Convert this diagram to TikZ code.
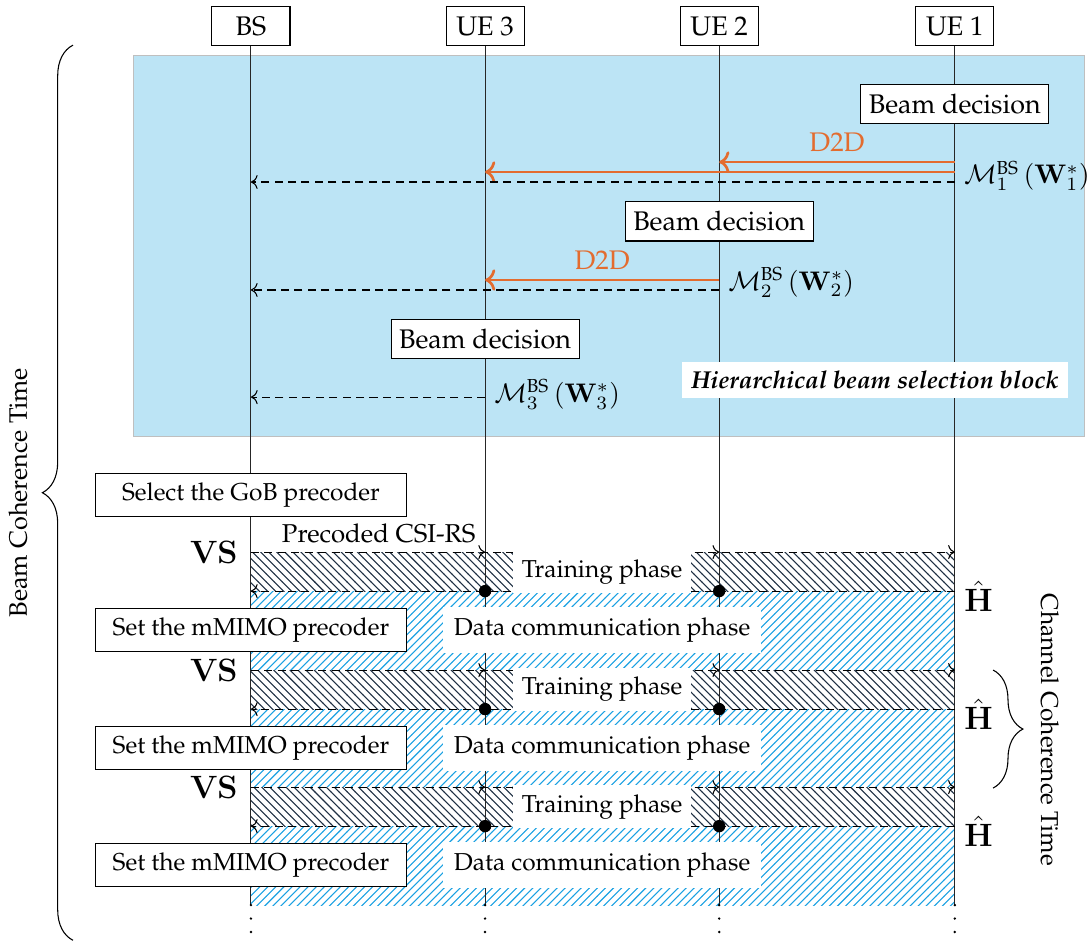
\documentclass[tikz,border=0pt]{standalone}
\usepackage[T1]{fontenc}
\usepackage{amsmath}
\renewcommand{\rmdefault}{ppl}
\usetikzlibrary{patterns,decorations.pathreplacing,arrows.meta}
\definecolor{blockblue}{HTML}{BCE4F5}
\definecolor{d2dorange}{HTML}{E36C2F}
\definecolor{hatchblue}{HTML}{1BA1E2}
\definecolor{hatchdark}{HTML}{1F3044}
\newcommand{\labelsize}{\fontsize{9.1}{11}\selectfont}

\tikzset{
  actor/.style={draw,fill=white,minimum width=1.02cm,minimum height=0.52cm},
  decision/.style={draw,fill=white,minimum height=0.52cm,inner sep=3pt},
  precoder/.style={draw,fill=white,minimum width=4.07cm,minimum height=0.5cm,font=\labelsize},
  phase/.style={fill=white,minimum height=0.5cm,font=\labelsize},
  report/.style={dash pattern=on 3pt off 2pt,->},
  d2d/.style={d2dorange,line width=1pt,->},
  dotsline/.style={line width=1pt,dash pattern=on 0pt off 5pt,line cap=round},
}

\begin{document}
\begin{tikzpicture}
\useasboundingbox (0,0) rectangle (14.26,-12.35);

% beam selection block
\filldraw[fill=blockblue,draw=black!25] (1.74,-0.72) rectangle (14.18,-5.70);

% hatching: data phase below, training strips on top
\fill[pattern=north east lines,pattern color=hatchblue] (3.28,-7.726) rectangle (12.48,-11.83);
\foreach \t in {-7.216,-8.758,-10.288}{
  \fill[white] (3.28,\t) rectangle (12.48,\t-0.51);
  \fill[pattern=north west lines,pattern color=hatchdark] (3.28,\t) rectangle (12.48,\t-0.51);
}

% actors and lifelines
\node[actor] (bs)  at (3.28,-0.34)  {BS};
\node[actor] (ue3) at (6.34,-0.34)  {UE 3};
\node[actor] (ue2) at (9.40,-0.34)  {UE 2};
\node[actor] (ue1) at (12.48,-0.34) {UE 1};
\coordinate (end) at (0,-11.83);
\coordinate (dots) at (0,-12.2);
\foreach \u in {bs,ue3,ue2,ue1}{
  \draw[black!85] (\u) -- (\u |- end);
  \draw[dotsline] (\u |- end) -- (\u |- dots);
}

% UE 1
\node[decision] (bd1) at (12.48,-1.36) {Beam decision};
\coordinate (m1a) at (0,-2.118);
\coordinate (m1b) at (0,-2.248);
\coordinate (m1c) at (0,-2.379);
\coordinate (m1x) at (0,-2.30);
\draw[d2d] (ue1 |- m1a) -- node[above,text=d2dorange] (d2d1) {D2D} (ue2 |- m1a);
\draw[d2d] (ue1 |- m1b) -- (ue3 |- m1b);
\draw[report] (ue1 |- m1c) -- (bs |- m1c);
\node[right] (fb1) at (ue1 |- m1x) {$\mathcal{M}_1^{\text{BS}}\left(\mathbf{W}_1^*\right)$};

% UE 2
\node[decision] (bd2) at (9.40,-2.89) {Beam decision};
\coordinate (m2a) at (0,-3.66);
\coordinate (m2c) at (0,-3.79);
\coordinate (m2x) at (0,-3.69);
\draw[d2d] (ue2 |- m2a) -- node[above,text=d2dorange] (d2d2) {D2D} (ue3 |- m2a);
\draw[report] (ue2 |- m2c) -- (bs |- m2c);
\node[right] (fb2) at (ue2 |- m2x) {$\mathcal{M}_2^{\text{BS}}\left(\mathbf{W}_2^*\right)$};

% UE 3
\node[decision] (bd3) at (6.34,-4.43) {Beam decision};
\coordinate (m3c) at (0,-5.19);
\coordinate (m3x) at (0,-5.16);
\draw[report] (ue3 |- m3c) -- (bs |- m3c);
\node[right] (fb3) at (ue3 |- m3x) {$\mathcal{M}_3^{\text{BS}}\left(\mathbf{W}_3^*\right)$};

\node[fill=white,font=\labelsize\bfseries\itshape] (hbs) at (11.44,-4.97) {Hierarchical beam selection block};

% channel estimation and data
\node[precoder] (gob) at (3.28,-6.47) {Select the GoB precoder};
\node[font=\fontsize{9.6}{11}\selectfont] (csirs) at (4.95,-6.97) {Precoded CSI-RS};
\foreach \i/\t in {1/-7.216,2/-8.758,3/-10.288}{
  \coordinate (tr\i) at (0,\t);
  \coordinate (fb\i) at (0,\t-0.51);
  \foreach \u in {ue3,ue2,ue1}
    \draw[report] (bs |- tr\i) -- (\u |- tr\i);
  \draw[report] (ue1 |- fb\i) -- (bs |- fb\i);
  \fill (ue3 |- fb\i) circle (2.3pt) (ue2 |- fb\i) circle (2.3pt);
  \node[phase] (train\i) at (7.87,\t-0.255) {Training phase};
  \node[phase,inner sep=4pt,minimum height=0.52cm] (data\i) at (7.87,\t-1.02) {Data communication phase};
  \node[precoder] (mimo\i) at (3.28,\t-1.02) {Set the mMIMO precoder};
  \node[left,font=\large] (vs\i) at ([xshift=-0.05cm]bs |- tr\i) {$\mathbf{VS}$};
  \node[right,font=\large] (h\i) at ([yshift=-0.07cm]ue1 |- fb\i) {$\hat{\mathbf{H}}$};
}

% coherence times
\draw[decorate,decoration={brace,amplitude=0.4cm}] (0.954,-12.29) -- (0.954,-0.59);
\node[rotate=90,font=\fontsize{9.4}{11}\selectfont] (bct) at (0.235,-6.44) {Beam Coherence Time};
\draw[decorate,decoration={brace,amplitude=0.39cm}] (12.98,-8.758) -- (12.98,-10.30);
\node[rotate=-90,font=\labelsize] (cct) at (13.72,-9.54) {Channel Coherence Time};
\end{tikzpicture}
\end{document}
